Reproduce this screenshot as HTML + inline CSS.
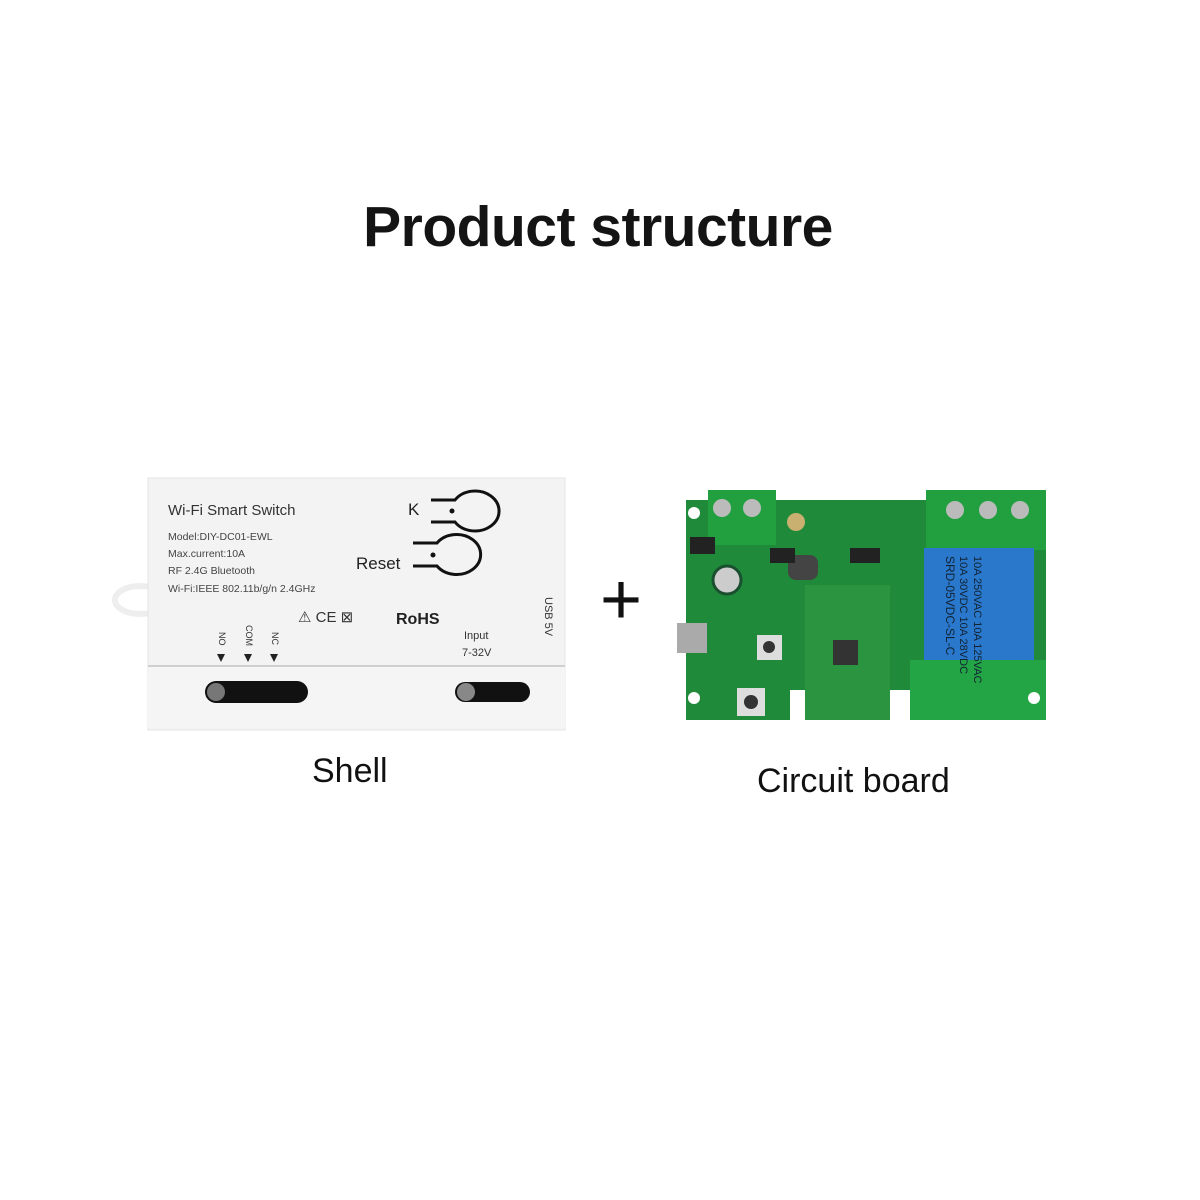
<!DOCTYPE html>
<html><head><style>
body{margin:0;width:1200px;height:1200px;background:#fff;position:relative;overflow:hidden;font-family:"Liberation Sans",sans-serif}
.t{position:absolute;white-space:nowrap;color:#111}
</style></head><body>
<div class="t" style="left:0;width:1196px;top:194px;text-align:center;font-size:57px;font-weight:bold;color:#141414;letter-spacing:-0.5px">Product structure</div>
<div class="t" style="left:312px;top:752px;font-size:34px">Shell</div>
<div class="t" style="left:757px;top:762px;font-size:34px">Circuit board</div>
<div class="t" style="left:600px;top:565px;font-size:72px;line-height:70px">+</div>

<svg width="1200" height="1200" style="position:absolute;left:0;top:0">
<ellipse cx="140" cy="600" rx="25" ry="14" fill="none" stroke="#eee" stroke-width="6"/>
<rect x="148" y="478" width="417" height="252" fill="#f3f3f4" stroke="#e4e4e6"/>
<rect x="148" y="665" width="417" height="63" fill="#f5f5f6"/>
<line x1="148" y1="666" x2="565" y2="666" stroke="#cfcfd2" stroke-width="2"/>
<rect x="205" y="681" width="103" height="22" rx="11" fill="#111"/>
<circle cx="216" cy="692" r="9" fill="#777"/>
<rect x="455" y="682" width="75" height="20" rx="10" fill="#111"/>
<circle cx="466" cy="692" r="9" fill="#888"/>
<g fill="none" stroke="#111" stroke-width="3">
<path d="M431 500 L455 500 A24 20 0 1 1 455 522 L431 522"/>
<path d="M413 543 L437 543 A24 20 0 1 1 437 566 L413 566"/>
</g>
<circle cx="452" cy="511" r="2.5" fill="#111"/><circle cx="433" cy="555" r="2.5" fill="#111"/>
<text x="168" y="515" font-size="15" fill="#333" font-family="Liberation Sans">Wi-Fi Smart Switch</text>
<g font-size="10.5" fill="#444" font-family="Liberation Sans">
<text x="168" y="540">Model:DIY-DC01-EWL</text>
<text x="168" y="557">Max.current:10A</text>
<text x="168" y="574">RF 2.4G Bluetooth</text>
<text x="168" y="592">Wi-Fi:IEEE 802.11b/g/n 2.4GHz</text>
</g>
<text x="408" y="515" font-size="17" fill="#222">K</text>
<text x="356" y="569" font-size="17" fill="#222">Reset</text>
<text x="0" y="0" font-size="11" fill="#333" transform="translate(545,597) rotate(90)">USB 5V</text>
<text x="298" y="622" font-size="15" fill="#333">⚠ CE ⊠</text>
<text x="396" y="624" font-size="16" font-weight="bold" fill="#222">RoHS</text>
<text x="464" y="639" font-size="11" fill="#333">Input</text>
<text x="462" y="656" font-size="11" fill="#333">7-32V</text>
<g font-size="9" fill="#333">
<text transform="translate(219,632) rotate(90)">NO</text>
<text transform="translate(246,625) rotate(90)">COM</text>
<text transform="translate(272,632) rotate(90)">NC</text>
</g>
<g fill="#222"><path d="M217 654h8l-4 8z"/><path d="M244 654h8l-4 8z"/><path d="M270 654h8l-4 8z"/></g>

<path d="M686 500 H1046 V720 H912 V690 H890 V720 H805 V690 H790 V720 H686 Z" fill="#1f8a3a"/>
<rect x="805" y="585" width="85" height="135" fill="#2a9440"/>
<rect x="708" y="490" width="68" height="55" fill="#22a040"/>
<circle cx="722" cy="508" r="9" fill="#bbb"/><circle cx="752" cy="508" r="9" fill="#bbb"/>
<rect x="926" y="490" width="120" height="60" fill="#22a040"/>
<circle cx="955" cy="510" r="9" fill="#bbb"/><circle cx="988" cy="510" r="9" fill="#bbb"/><circle cx="1020" cy="510" r="9" fill="#bbb"/>
<rect x="924" y="548" width="110" height="118" fill="#2a78cc"/>
<rect x="910" y="660" width="136" height="60" fill="#23a545"/>
<text transform="translate(946,556) rotate(90)" font-size="12" fill="#123">SRD-05VDC-SL-C</text>
<text transform="translate(960,556) rotate(90)" font-size="11" fill="#123">10A 30VDC 10A 28VDC</text>
<text transform="translate(974,556) rotate(90)" font-size="11" fill="#123">10A 250VAC 10A 125VAC</text>
<circle cx="727" cy="580" r="14" fill="#ccc" stroke="#1a5030" stroke-width="3"/>
<rect x="833" y="640" width="25" height="25" fill="#333"/>
<rect x="757" y="635" width="25" height="25" fill="#ddd"/><circle cx="769" cy="647" r="6" fill="#333"/>
<rect x="737" y="688" width="28" height="28" fill="#ddd"/><circle cx="751" cy="702" r="7" fill="#333"/>
<rect x="677" y="623" width="30" height="30" fill="#aaa"/>
<rect x="788" y="555" width="30" height="25" rx="8" fill="#444"/>
<rect x="690" y="537" width="25" height="17" fill="#222"/>
<rect x="770" y="548" width="25" height="15" fill="#222"/>
<rect x="850" y="548" width="30" height="15" fill="#222"/>
<circle cx="796" cy="522" r="9" fill="#cab070"/>
<circle cx="694" cy="513" r="6" fill="#fff"/><circle cx="694" cy="698" r="6" fill="#fff"/><circle cx="1034" cy="698" r="6" fill="#fff"/>
</svg>
</body></html>
